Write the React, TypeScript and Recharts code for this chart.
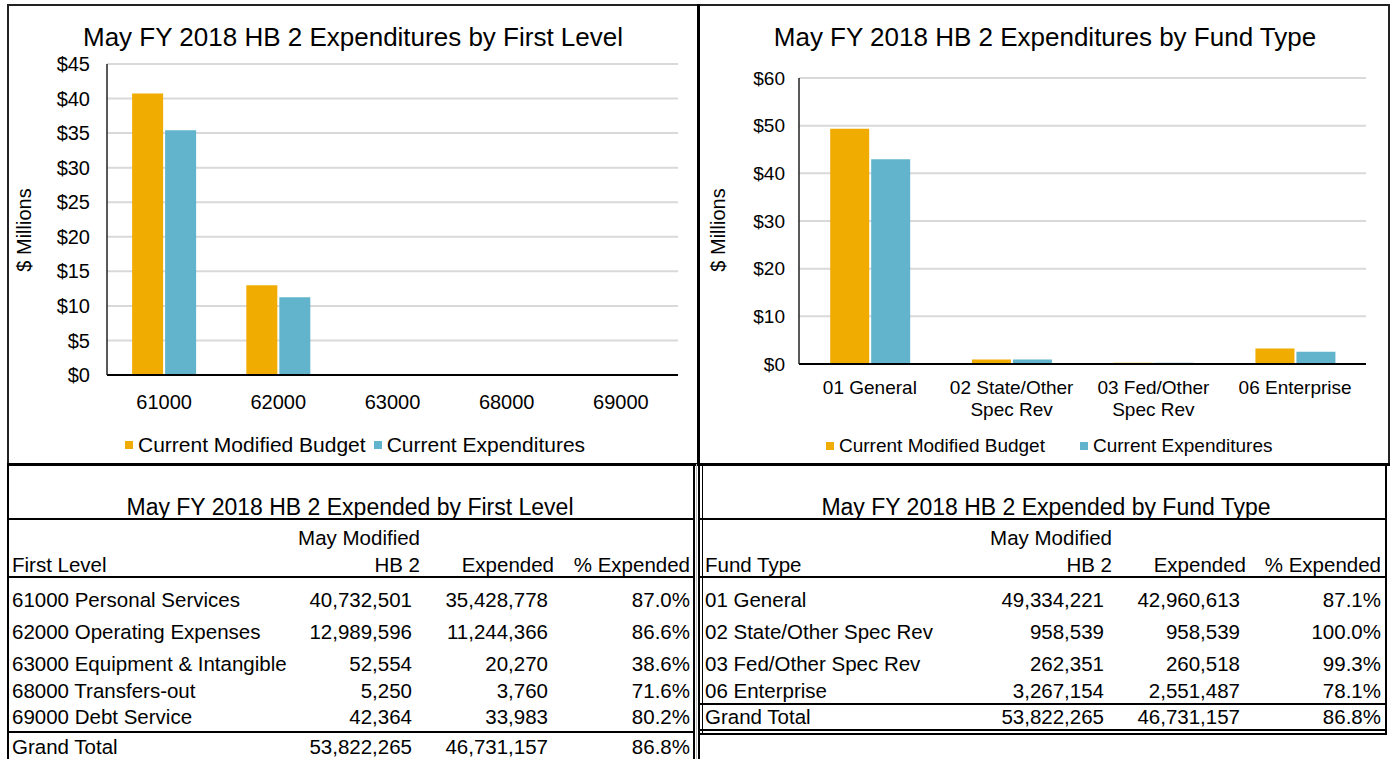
import type { ReactNode } from 'react'
import { Bar, BarChart, CartesianGrid, Legend, XAxis, YAxis } from 'recharts'

const BUDGET_COLOR = '#F0AC00'
const SPENT_COLOR = '#61B4CB'
const FONT = '"Liberation Sans", Arial, sans-serif'

const budgetLabel = 'Current Modified Budget'
const spentLabel = 'Current Expenditures'
const legendOrder = [budgetLabel, spentLabel]

// first level (object codes)
const firstLevelCodes = ['61000', '62000', '63000', '68000', '69000']
const firstLevelNames = [
  '61000 Personal Services',
  '62000 Operating Expenses',
  '63000 Equipment & Intangible',
  '68000 Transfers-out',
  '69000 Debt Service',
]
const firstLevelBudget = [40732501, 12989596, 52554, 5250, 42364]
const firstLevelExpended = [35428778, 11244366, 20270, 3760, 33983]
const firstLevelTicks = [0, 5, 10, 15, 20, 25, 30, 35, 40, 45]

// fund types
const fundTypeNames = [
  '01 General',
  '02 State/Other Spec Rev',
  '03 Fed/Other Spec Rev',
  '06 Enterprise',
]
const fundTypeTickLines = [
  ['01 General'],
  ['02 State/Other', 'Spec Rev'],
  ['03 Fed/Other', 'Spec Rev'],
  ['06 Enterprise'],
]
const fundTypeBudget = [49334221, 958539, 262351, 3267154]
const fundTypeExpended = [42960613, 958539, 260518, 2551487]
const fundTypeTicks = [0, 10, 20, 30, 40, 50, 60]

const grandTotalBudget = 53822265
const grandTotalExpended = 46731157

type ChartRow = { label: string; lines: string[]; budget: number; spent: number }

const firstLevelData: ChartRow[] = firstLevelCodes.map((code, i) => ({
  label: code,
  lines: [code],
  budget: firstLevelBudget[i] / 1e6,
  spent: firstLevelExpended[i] / 1e6,
}))

const fundTypeData: ChartRow[] = fundTypeNames.map((name, i) => ({
  label: name,
  lines: fundTypeTickLines[i],
  budget: fundTypeBudget[i] / 1e6,
  spent: fundTypeExpended[i] / 1e6,
}))

const fmt = (n: number) => n.toLocaleString('en-US')
const pct = (spent: number, budget: number) => `${((spent / budget) * 100).toFixed(1)}%`

const TABLE_FONT = 20.5

function Txt({
  x,
  y,
  size = TABLE_FONT,
  align = 'left',
  children,
}: {
  x: number
  y: number
  size?: number
  align?: 'left' | 'right' | 'center'
  children: ReactNode
}) {
  const w = 640
  const left = align === 'left' ? x : align === 'right' ? x - w : x - w / 2
  return (
    <div
      style={{
        position: 'absolute',
        left,
        top: y - size / 2,
        width: w,
        fontSize: size,
        lineHeight: `${size}px`,
        textAlign: align,
        whiteSpace: 'nowrap',
      }}
    >
      {children}
    </div>
  )
}

function Rule({ x, y, w, h, color = '#000' }: { x: number; y: number; w: number; h: number; color?: string }) {
  return <div style={{ position: 'absolute', left: x, top: y, width: w, height: h, background: color }} />
}

type ChartProps = {
  title: string
  data: ChartRow[]
  ticks: number[]
  left: number
  top: number
  width: number
  height: number
  plotTop: number
  plotRight: number
  axisHeight: number
  tickSize: number
  yTickMargin: number
  catFont: number
  catBaseline: number
  catLineGap: number
  titleX: number
  axisTitleX: number
  axisTitleY: number
  legendTop: number
  legendLeft: number
  legendGap: number
  legendFont: number
}

function ExpenditureChart(p: ChartProps) {
  const renderTick = (props: any) => {
    const { x, y, payload } = props
    const row = p.data.find((d) => d.label === payload.value)
    const lines = row ? row.lines : [String(payload.value)]
    return (
      <text x={x} y={y} textAnchor="middle" fill="#000" fontSize={p.catFont} fontFamily={FONT}>
        {lines.map((line, i) => (
          <tspan key={line} x={x} dy={i === 0 ? p.catBaseline : p.catLineGap}>
            {line}
          </tspan>
        ))}
      </text>
    )
  }

  const renderLegend = (props: any) => {
    const payload = [...((props.payload ?? []) as { value: string; color: string }[])].sort(
      (a, b) => legendOrder.indexOf(a.value) - legendOrder.indexOf(b.value),
    )
    return (
      <div
        style={{
          display: 'flex',
          alignItems: 'center',
          fontSize: p.legendFont,
          lineHeight: `${p.legendFont}px`,
          color: '#000',
          fontFamily: FONT,
          whiteSpace: 'nowrap',
        }}
      >
        {payload.map((item, i) => (
          <span
            key={item.value}
            style={{ display: 'inline-flex', alignItems: 'center', marginLeft: i ? p.legendGap : 0 }}
          >
            <span style={{ width: 8, height: 8, background: item.color, marginRight: 5 }} />
            {item.value}
          </span>
        ))}
      </div>
    )
  }

  return (
    <div style={{ position: 'absolute', left: p.left, top: p.top, width: p.width, height: p.height }}>
      <Txt x={p.titleX - p.left} y={32} size={26} align="center">
        {p.title}
      </Txt>
      <BarChart
        width={p.width}
        height={p.height}
        data={p.data}
        margin={{ top: p.plotTop, right: p.plotRight, left: 0, bottom: 0 }}
        barCategoryGap="22%"
        barGap={2}
        style={{ position: 'absolute', left: 0, top: 0 }}
      >
        <CartesianGrid vertical={false} stroke="#d9d9d9" strokeWidth={2} />
        <XAxis
          dataKey="label"
          height={p.axisHeight}
          interval={0}
          tickLine={false}
          tickSize={0}
          tickMargin={0}
          axisLine={{ stroke: '#000', strokeWidth: 2 }}
          tick={renderTick}
        />
        <YAxis
          width={99}
          domain={[0, p.ticks[p.ticks.length - 1]]}
          ticks={p.ticks}
          interval={0}
          tickLine={false}
          tickSize={0}
          tickMargin={p.yTickMargin}
          axisLine={{ stroke: '#222', strokeWidth: 1.5 }}
          tick={{ fill: '#000', fontSize: p.tickSize, fontFamily: FONT }}
          tickFormatter={(v: number) => `$${v}`}
          label={() => (
            <text
              x={p.axisTitleX}
              y={p.axisTitleY}
              transform={`rotate(-90 ${p.axisTitleX} ${p.axisTitleY})`}
              textAnchor="middle"
              fill="#000"
              fontSize={20}
              fontFamily={FONT}
            >
              $ Millions
            </text>
          )}
        />
        <Legend
          layout="horizontal"
          verticalAlign="middle"
          align="center"
          content={renderLegend}
          wrapperStyle={{ top: p.legendTop, left: p.legendLeft, width: 'auto', height: 'auto' }}
        />
        <Bar dataKey="budget" name={budgetLabel} fill={BUDGET_COLOR} isAnimationActive={false} />
        <Bar dataKey="spent" name={spentLabel} fill={SPENT_COLOR} isAnimationActive={false} />
      </BarChart>
    </div>
  )
}

type TableProps = {
  title: string
  titleX: number
  header: string
  names: string[]
  budget: number[]
  expended: number[]
  rowY: number[]
  totalY: number
  nameX: number
  budgetHeadX: number
  budgetX: number
  expHeadX: number
  expX: number
  pctX: number
}

function ExpendedTable(t: TableProps) {
  return (
    <>
      <Txt x={t.titleX} y={507} size={23} align="center">
        {t.title}
      </Txt>
      <Txt x={t.budgetHeadX} y={538} align="right">
        May Modified
      </Txt>
      <Txt x={t.nameX} y={565}>
        {t.header}
      </Txt>
      <Txt x={t.budgetHeadX} y={565} align="right">
        HB 2
      </Txt>
      <Txt x={t.expHeadX} y={565} align="right">
        Expended
      </Txt>
      <Txt x={t.pctX} y={565} align="right">
        % Expended
      </Txt>
      {t.names.map((name, i) => (
        <div key={name}>
          <Txt x={t.nameX} y={t.rowY[i]}>
            {name}
          </Txt>
          <Txt x={t.budgetX} y={t.rowY[i]} align="right">
            {fmt(t.budget[i])}
          </Txt>
          <Txt x={t.expX} y={t.rowY[i]} align="right">
            {fmt(t.expended[i])}
          </Txt>
          <Txt x={t.pctX} y={t.rowY[i]} align="right">
            {pct(t.expended[i], t.budget[i])}
          </Txt>
        </div>
      ))}
      <Txt x={t.nameX} y={t.totalY}>
        Grand Total
      </Txt>
      <Txt x={t.budgetX} y={t.totalY} align="right">
        {fmt(grandTotalBudget)}
      </Txt>
      <Txt x={t.expX} y={t.totalY} align="right">
        {fmt(grandTotalExpended)}
      </Txt>
      <Txt x={t.pctX} y={t.totalY} align="right">
        {pct(grandTotalExpended, grandTotalBudget)}
      </Txt>
    </>
  )
}

export default function App() {
  return (
    <div
      style={{
        position: 'absolute',
        left: 0,
        top: 0,
        width: 1390,
        height: 759,
        background: '#fff',
        overflow: 'hidden',
        fontFamily: FONT,
        color: '#000',
      }}
    >
      <ExpenditureChart
        title="May FY 2018 HB 2 Expenditures by First Level"
        data={firstLevelData}
        ticks={firstLevelTicks}
        left={8}
        top={5}
        width={689}
        height={458}
        plotTop={59}
        plotRight={19}
        axisHeight={88}
        tickSize={20}
        yTickMargin={17}
        catFont={20}
        catBaseline={34}
        catLineGap={22}
        titleX={353}
        axisTitleX={23}
        axisTitleY={225}
        legendTop={429}
        legendLeft={117}
        legendGap={8}
        legendFont={21}
      />
      <ExpenditureChart
        title="May FY 2018 HB 2 Expenditures by Fund Type"
        data={fundTypeData}
        ticks={fundTypeTicks}
        left={700}
        top={5}
        width={690}
        height={458}
        plotTop={73}
        plotRight={24}
        axisHeight={99}
        tickSize={19}
        yTickMargin={14}
        catFont={19}
        catBaseline={30}
        catLineGap={22}
        titleX={1045}
        axisTitleX={25}
        axisTitleY={225}
        legendTop={431}
        legendLeft={126}
        legendGap={35}
        legendFont={19}
      />

      {/* panel frames */}
      <Rule x={7} y={4} w={1383} h={2} color="#222" />
      <Rule x={7} y={4} w={2} h={460} color="#222" />
      <Rule x={697} y={4} w={3} h={460} />
      <Rule x={1388} y={4} w={2} h={460} color="#222" />
      <Rule x={7} y={463} w={1383} h={3} />

      <ExpendedTable
        title="May FY 2018 HB 2 Expended by First Level"
        titleX={350}
        header="First Level"
        names={firstLevelNames}
        budget={firstLevelBudget}
        expended={firstLevelExpended}
        rowY={[600, 632, 664, 691, 717]}
        totalY={747}
        nameX={12}
        budgetHeadX={420}
        budgetX={412}
        expHeadX={554}
        expX={548}
        pctX={690}
      />
      <ExpendedTable
        title="May FY 2018 HB 2 Expended by Fund Type"
        titleX={1046}
        header="Fund Type"
        names={fundTypeNames}
        budget={fundTypeBudget}
        expended={fundTypeExpended}
        rowY={[600, 632, 664, 691]}
        totalY={717}
        nameX={705}
        budgetHeadX={1112}
        budgetX={1104}
        expHeadX={1246}
        expX={1240}
        pctX={1381}
      />

      {/* left table rules */}
      <Rule x={7} y={464} w={2} h={295} />
      <Rule x={693} y={464} w={2} h={295} />
      <Rule x={7} y={518} w={688} h={2} />
      <Rule x={7} y={576} w={688} h={2} />
      <Rule x={7} y={731} w={688} h={2} />

      {/* right table rules */}
      <Rule x={696} y={464} w={1} h={295} color="#bbb" />
      <Rule x={698} y={464} w={2} h={295} />
      <Rule x={702} y={464} w={1} h={271} />
      <Rule x={698} y={518} w={688} h={2} />
      <Rule x={698} y={576} w={688} h={2} />
      <Rule x={698} y={703} w={688} h={2} />
      <Rule x={698} y={729} w={688} h={2} />
      <Rule x={698} y={733} w={688} h={2} />
      <Rule x={1385} y={464} w={2} h={271} />
    </div>
  )
}
